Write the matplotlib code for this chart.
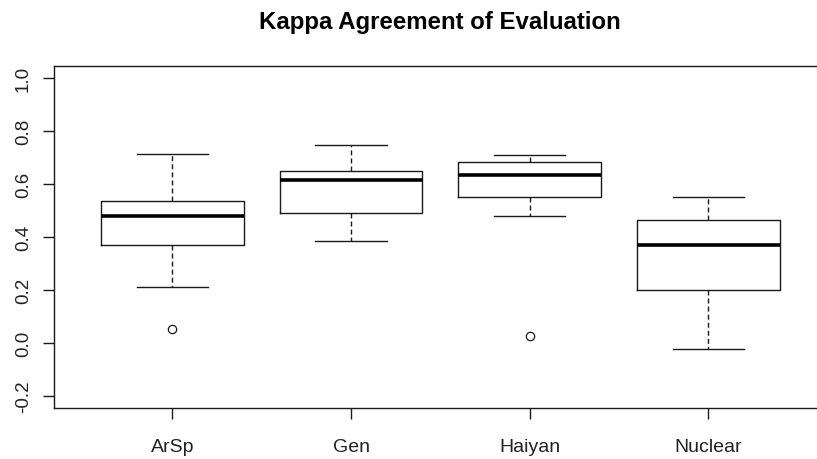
import numpy as np
import matplotlib
matplotlib.use("Agg")
import matplotlib.pyplot as plt

plt.rcParams['font.family'] = ['Liberation Sans', 'DejaVu Sans']

# five-number summaries per dataset
groups = ['ArSp', 'Gen', 'Haiyan', 'Nuclear']
whislo = [0.210, 0.386, 0.480, -0.024]
q1 = [0.371, 0.490, 0.550, 0.201]
med = [0.480, 0.614, 0.634, 0.371]
q3 = [0.537, 0.651, 0.685, 0.466]
whishi = [0.714, 0.748, 0.710, 0.553]
outliers = [[0.051], [], [0.026], []]

stats = []
for i, g in enumerate(groups):
    stats.append(dict(label=g, whislo=whislo[i], q1=q1[i], med=med[i],
                      q3=q3[i], whishi=whishi[i], fliers=outliers[i]))

fig = plt.figure(figsize=(8.17, 4.6), dpi=100)
ax = fig.add_axes([0.0665, 0.110, 0.945, 0.745])

lc = '#1a1a1a'
ax.bxp(stats, positions=[1, 2, 3, 4], widths=0.8, capwidths=0.4,
       showfliers=True, patch_artist=False,
       boxprops=dict(color=lc, linewidth=1.0),
       medianprops=dict(color='black', linewidth=2.6, solid_capstyle='butt'),
       whiskerprops=dict(color=lc, linewidth=1.0, linestyle=(0, (3.6, 2.2))),
       capprops=dict(color=lc, linewidth=1.0),
       flierprops=dict(marker='o', markerfacecolor='none', markeredgecolor=lc,
                       markersize=6, markeredgewidth=0.9))

ax.set_xlim(0.34, 4.66)
ax.set_ylim(-0.248, 1.048)
ax.set_yticks([-0.2, 0.0, 0.2, 0.4, 0.6, 0.8, 1.0])
ax.set_yticklabels(['-0.2', '0.0', '0.2', '0.4', '0.6', '0.8', '1.0'],
                   rotation=90, va='center')
ax.tick_params(axis='both', length=8.2, width=1.0, color=lc,
               labelcolor='#222222')
ax.tick_params(axis='y', pad=8, labelsize=13.5)
ax.tick_params(axis='x', pad=13, labelsize=14)
for s in ax.spines.values():
    s.set_color(lc)
    s.set_linewidth(1.0)

fig.suptitle('Kappa Agreement of Evaluation', fontsize=17.3, fontweight='bold',
             x=0.538, y=0.977)

fig.savefig('out.png', dpi=100)
